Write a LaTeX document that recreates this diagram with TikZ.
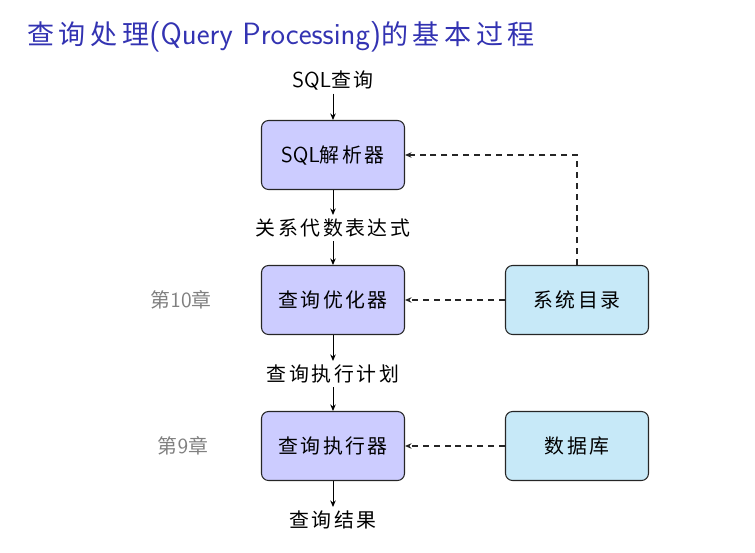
\documentclass[tikz,border=0pt]{standalone}
\usepackage{fontspec}
\newfontfamily\cjk[Scale=0.92,LetterSpace=13]{Noto Sans CJK SC}
\newfontfamily\cjktitle[Scale=0.88,LetterSpace=17]{Noto Sans CJK SC}
\usepackage{xcolor}
\usepackage{tikz}
\usetikzlibrary{arrows.meta,positioning,calc}
\definecolor{titleblue}{rgb}{0.2,0.2,0.7}
\definecolor{procfill}{RGB}{204,204,255}
\definecolor{catfill}{RGB}{199,233,248}
\newcommand{\zh}[1]{{\cjk #1}}
\newcommand{\zht}[1]{{\cjktitle #1}}
\tikzset{
  procbox/.style={rounded corners=4pt, draw=black!85, fill=procfill, line width=0.6pt, align=center, minimum width=2.86cm, minimum height=1.38cm, font=\sffamily\fontsize{12.3}{14}\selectfont},
  catbox/.style={rounded corners=4pt, draw=black!85, fill=catfill, line width=0.6pt, align=center, minimum width=2.86cm, minimum height=1.38cm, font=\sffamily\fontsize{12.3}{14}\selectfont},
  flowtxt/.style={inner sep=2pt, font=\sffamily\fontsize{12.3}{14}\selectfont},
  chap/.style={text=black!50, font=\sffamily\fontsize{12.3}{14}\selectfont},
  flow/.style={-{Stealth[length=1.3mm,width=1.1mm]}, line width=0.5pt, draw=black},
  dflow/.style={-{Stealth[length=1.3mm,width=1.1mm]}, line width=0.6pt, draw=black!85, dash pattern=on 3.4pt off 2.8pt},
}
\begin{document}
\begin{tikzpicture}[x=0.02cm,y=-0.02cm]
  \useasboundingbox (0,0) rectangle (755,552);
  \node[anchor=base west, inner sep=0pt, text=titleblue, font=\sffamily\fontsize{17.5}{20}\selectfont] (title) at (27,44) {\zht{查询处理}(Query Processing)\zht{的基本过程}};
  % main flow
  \node[flowtxt] (sql)   at (333,80)  {SQL\zh{查询}};
  \node[procbox] (parse) at (333,155) {SQL\zh{解析器}};
  \node[flowtxt] (alg)   at (333,228) {\zh{关系代数表达式}};
  \node[procbox] (opt)   at (333,300) {\zh{查询优化器}};
  \node[flowtxt] (plan)  at (333,374) {\zh{查询执行计划}};
  \node[procbox] (exec)  at (333,446) {\zh{查询执行器}};
  \node[flowtxt] (res)   at (333,520) {\zh{查询结果}};
  % side boxes
  \node[catbox] (cat) at (577,300) {\zh{系统目录}};
  \node[catbox] (db)  at (577,446) {\zh{数据库}};
  \node[chap] (ch10) at (181,300) {\zh{第}10\zh{章}};
  \node[chap] (ch9)  at (183,446) {\zh{第}9\zh{章}};
  \draw[flow] (sql)--(parse);   \draw[flow] (parse)--(alg);
  \draw[flow] (alg)--(opt);     \draw[flow] (opt)--(plan);
  \draw[flow] (plan)--(exec);   \draw[flow] (exec)--(res);
  \draw[dflow] (cat)--(opt);    \draw[dflow] (db)--(exec);
  \draw[dflow] (cat.north) |- (parse.east);
\end{tikzpicture}
\end{document}
